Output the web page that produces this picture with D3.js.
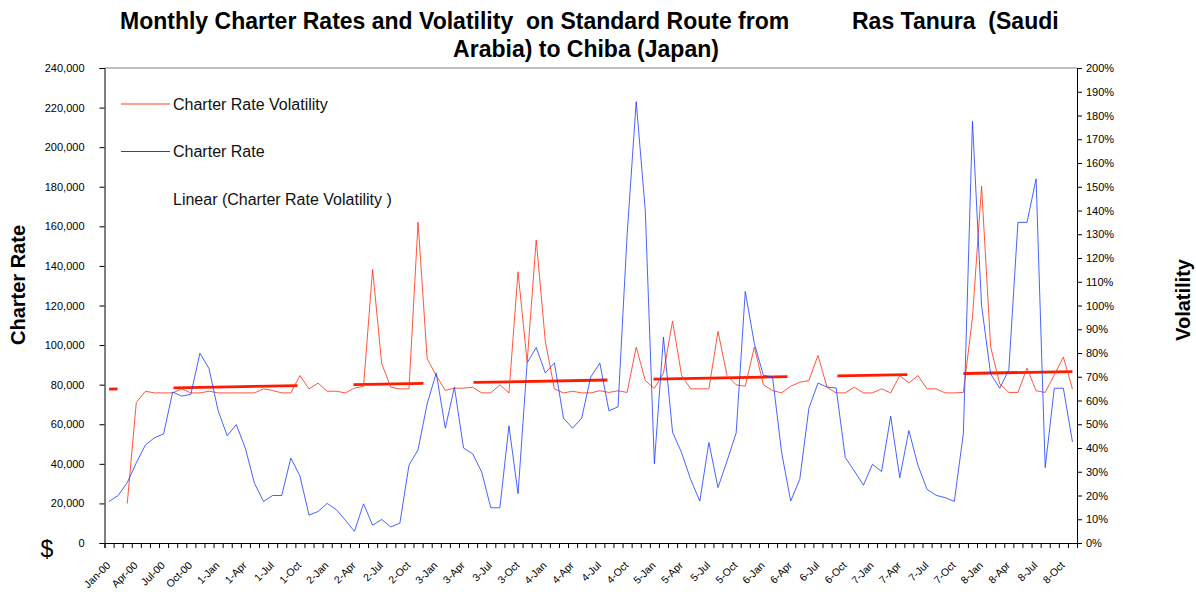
<!DOCTYPE html>
<html><head><meta charset="utf-8">
<script src="https://cdn.jsdelivr.net/npm/d3@7"></script>
<style>
body{margin:0;background:#fff;}
svg{display:block;font-family:"Liberation Sans",Arial,sans-serif;}
</style></head><body>
<svg id="c" width="1196" height="592"></svg>
<script>
// Monthly charter rate ($/day), Jan 2000 .. Nov 2008
const charterRate = [
 21000,24000,30500,40500,49500,53200,55100,76300,74200,75100,95900,88100,
 66900,54200,59800,47800,30200,21000,24000,24000,42900,33900,14100,15900,
 20000,16900,11500,5900,19800,9000,11900,8100,10000,39300,47100,70300,
 85900,58000,78800,48000,45100,35900,17800,17800,59200,24900,91000,98800,
 85900,91000,63100,58000,63100,83900,90900,66800,68800,155600,223000,168000,
 40100,104000,56000,45600,32000,21200,50800,28000,41500,55600,127100,100800,
 84700,83900,45800,21200,32200,68100,80800,78800,78300,43200,36400,29200,
 39800,36100,64100,33000,56800,39300,27100,24100,22900,21000,55400,213000,
 120000,85400,78200,87600,162000,162000,184000,38100,78200,78200,51100
];
// Charter rate volatility (fraction), null where not available
const volatility = [
 null,null,0.166,0.592,0.639,0.632,0.632,0.632,0.649,0.632,0.632,0.639,
 0.632,0.632,0.632,0.632,0.632,0.649,0.642,0.632,0.632,0.705,0.649,0.673,
 0.639,0.639,0.632,0.652,0.660,1.152,0.755,0.656,0.649,0.649,1.351,0.776,
 0.705,0.642,0.652,0.652,0.656,0.632,0.632,0.666,0.632,1.142,0.761,1.276,
 0.850,0.649,0.632,0.639,0.632,0.632,0.641,0.634,0.641,0.634,0.825,0.684,
 0.651,0.716,0.934,0.705,0.649,0.649,0.649,0.891,0.705,0.666,0.660,0.825,
 0.666,0.642,0.632,0.660,0.677,0.684,0.790,0.656,0.632,0.632,0.656,0.632,
 0.632,0.649,0.632,0.705,0.674,0.705,0.649,0.649,0.632,0.632,0.634,0.950,
 1.502,0.825,0.670,0.634,0.634,0.736,0.641,0.634,0.708,0.783,0.648
];
// Linear trendline of volatility as shown (value at first and last month)
const trendIndex = [0, 106];
const trendValues = [0.648, 0.722];
const tickLabels = ["Jan-00","Apr-00","Jul-00","Oct-00","1-Jan","1-Apr","1-Jul","1-Oct",
 "2-Jan","2-Apr","2-Jul","2-Oct","3-Jan","3-Apr","3-Jul","3-Oct","4-Jan","4-Apr","4-Jul","4-Oct",
 "5-Jan","5-Apr","5-Jul","5-Oct","6-Jan","6-Apr","6-Jul","6-Oct","7-Jan","7-Apr","7-Jul","7-Oct",
 "8-Jan","8-Apr","8-Jul","8-Oct"];
const leftTicks = [0,20000,40000,60000,80000,100000,120000,140000,160000,180000,200000,220000,240000];
const rightTicks = [0,0.1,0.2,0.3,0.4,0.5,0.6,0.7,0.8,0.9,1.0,1.1,1.2,1.3,1.4,1.5,1.6,1.7,1.8,1.9,2.0];
const legendItems = [
 {name:"Charter Rate Volatility", color:"#ff3a1a"},
 {name:"Charter Rate", color:"#1a3cff"},
 {name:"Linear (Charter Rate Volatility )", color:null}
];

const svg = d3.select("#c");
const L = 104.5, R = 1077, T = 68, B = 543;
const n = charterRate.length;
const x = d3.scaleLinear().domain([0, n]).range([L, R]);
const cx = i => x(i + 0.5);
const yL = d3.scaleLinear().domain([0, 240000]).range([B, T]);
const yR = d3.scaleLinear().domain([0, 2]).range([B, T]);

// Title
const title = svg.append("g").attr("font-weight","bold").attr("font-size",23).attr("fill","#000");
title.append("text").attr("x",120).attr("y",29).text("Monthly Charter Rates and Volatility\u00a0 on Standard Route from");
title.append("text").attr("x",852).attr("y",29).text("Ras Tanura\u00a0 (Saudi");
title.append("text").attr("x",586).attr("y",57).attr("text-anchor","middle").text("Arabia) to Chiba (Japan)");

// plot border top
svg.append("line").attr("x1",L).attr("x2",R).attr("y1",T).attr("y2",T).attr("stroke","#808080").attr("stroke-width",1);

// Left axis
const gl = svg.append("g").attr("transform",`translate(${L},0)`)
 .call(d3.axisLeft(yL).tickValues(leftTicks).tickSize(5).tickPadding(15).tickFormat(d3.format(",")));
gl.selectAll("text").attr("font-size",11).attr("font-family","Liberation Sans, Arial, sans-serif").attr("fill","#000");
gl.select(".domain").attr("stroke","#000");

// Right axis
const gr = svg.append("g").attr("transform",`translate(${R},0)`)
 .call(d3.axisRight(yR).tickValues(rightTicks).tickSize(5).tickPadding(4).tickFormat(d3.format(".0%")));
gr.selectAll("text").attr("font-size",11).attr("font-family","Liberation Sans, Arial, sans-serif").attr("fill","#000");
gr.select(".domain").attr("stroke","#000");

// Bottom axis ticks at category boundaries
const gb = svg.append("g").attr("transform",`translate(0,${B})`)
 .call(d3.axisBottom(x).tickValues(d3.range(n+1)).tickSize(5).tickFormat(""));
gb.select(".domain").attr("stroke","#000");
gb.selectAll(".tick line").attr("stroke","#000");

// Bottom labels
svg.append("g").selectAll("text").data(tickLabels).join("text")
 .attr("transform",(d,j)=>`translate(${cx(j*3)+2},${B+23}) rotate(-45)`)
 .attr("text-anchor","end").attr("font-size",10.5).attr("fill","#000").text(d=>d);

// Axis titles
svg.append("text").attr("transform","translate(25,285) rotate(-90)").attr("text-anchor","middle")
 .attr("font-weight","bold").attr("font-size",20).text("Charter Rate");
svg.append("text").attr("transform","translate(1190,300) rotate(-90)").attr("text-anchor","middle")
 .attr("font-weight","bold").attr("font-size",20).text("Volatility");
svg.append("text").attr("x",47).attr("y",557).attr("text-anchor","middle").attr("font-size",23).text("$");

// Linear trendline of volatility (dashed)
const trend = trendIndex.map((i,k)=>[i, trendValues[k]]);
const tline = d3.line().x(d=>cx(d[0])).y(d=>yR(d[1]));
const dash = "8.5,56,124,56,70,50,134,46,134,50,70,56,220";
svg.append("path").attr("d",tline(trend)).attr("fill","none").attr("stroke","#ff1a00")
 .attr("stroke-width",2.8).attr("stroke-dasharray",dash);

// Series lines
const lineR = d3.line().defined(d=>d!==null).x((d,i)=>cx(i)).y(d=>yR(d));
const lineL = d3.line().x((d,i)=>cx(i)).y(d=>yL(d));
svg.append("path").attr("d",lineR(volatility)).attr("fill","none").attr("stroke",legendItems[0].color).attr("stroke-width",1).attr("stroke-opacity",0.85);
svg.append("path").attr("d",lineL(charterRate)).attr("fill","none").attr("stroke",legendItems[1].color).attr("stroke-width",1).attr("stroke-opacity",0.8);

// Legend
const lg = svg.append("g");
legendItems.forEach((it,k)=>{
  const yy = 104 + k*47.5;
  if(it.color) lg.append("line").attr("x1",121).attr("x2",170).attr("y1",yy).attr("y2",yy).attr("stroke",it.color).attr("stroke-width",1);
  lg.append("text").attr("x",173).attr("y",yy+5.5).attr("font-size",16).attr("fill","#111").text(it.name);
});
</script>
</body></html>
